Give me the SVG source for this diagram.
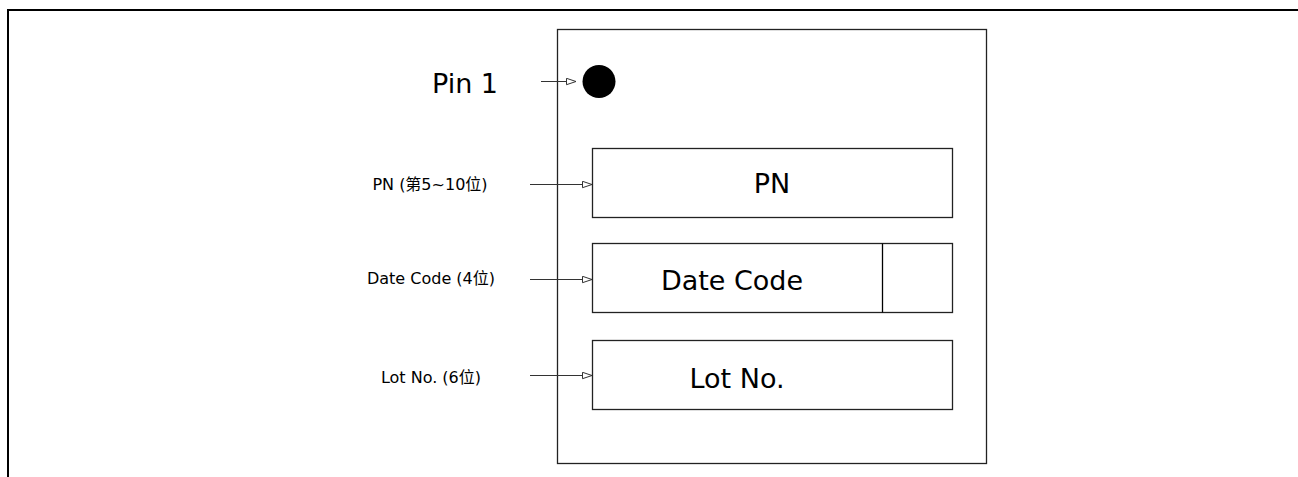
<svg xmlns="http://www.w3.org/2000/svg" width="1298" height="477" viewBox="0 0 1298 477">
<style>
.frame{fill:none;stroke:#000;stroke-width:2}
.pkg{fill:#fff;stroke:#222;stroke-width:1.3}
.box{fill:#fff;stroke:#222;stroke-width:1.3}
.conn{stroke:#333;stroke-width:1;fill:none}
.big{font-family:"DejaVu Sans",sans-serif;font-size:27px;fill:#000;text-anchor:middle}
.lbl{font-family:"DejaVu Sans","Noto Sans CJK SC",sans-serif;font-size:16px;fill:#000;text-anchor:middle}
</style>
<defs>
<marker id="ah" markerWidth="12" markerHeight="10" refX="10" refY="4" orient="auto" markerUnits="userSpaceOnUse">
<path d="M0.5,0.8 L10,4 L0.5,7.2 Z" fill="#fff" stroke="#333" stroke-width="1"/>
</marker>
</defs>
<path class="frame" d="M8,477 V10 H1298"/>
<g id="package">
<rect class="pkg" x="557.5" y="29.5" width="429" height="434"/>
</g>
<g id="pin1">
<circle cx="599" cy="81.5" r="16.5" fill="#000"/>
<text class="big" x="465" y="93">Pin 1</text>
</g>
<g id="pn">
<rect class="box" x="592.5" y="148.5" width="360" height="69"/>
<text class="big" x="772" y="193">PN</text>
</g>
<g id="datecode">
<rect class="box" x="592.5" y="243.5" width="360" height="69"/>
<line x1="882.5" y1="243.5" x2="882.5" y2="312.5" stroke="#000" stroke-width="1.3"/>
<text class="big" x="732" y="290">Date Code</text>
</g>
<g id="lotno">
<rect class="box" x="592.5" y="340.5" width="360" height="69"/>
<text class="big" x="737" y="388">Lot No.</text>
</g>
<g id="labels">
<text class="lbl" x="430" y="189.5">PN (第5~10位)</text>
<text class="lbl" x="431" y="283.5">Date Code (4位)</text>
<text class="lbl" x="431" y="383">Lot No. (6位)</text>
</g>
<g id="connectors">
<line class="conn" x1="541" y1="81.5" x2="576" y2="81.5" marker-end="url(#ah)"/>
<line class="conn" x1="530" y1="184.5" x2="592" y2="184.5" marker-end="url(#ah)"/>
<line class="conn" x1="530" y1="279.5" x2="592" y2="279.5" marker-end="url(#ah)"/>
<line class="conn" x1="530" y1="375.5" x2="592" y2="375.5" marker-end="url(#ah)"/>
</g>
</svg>
